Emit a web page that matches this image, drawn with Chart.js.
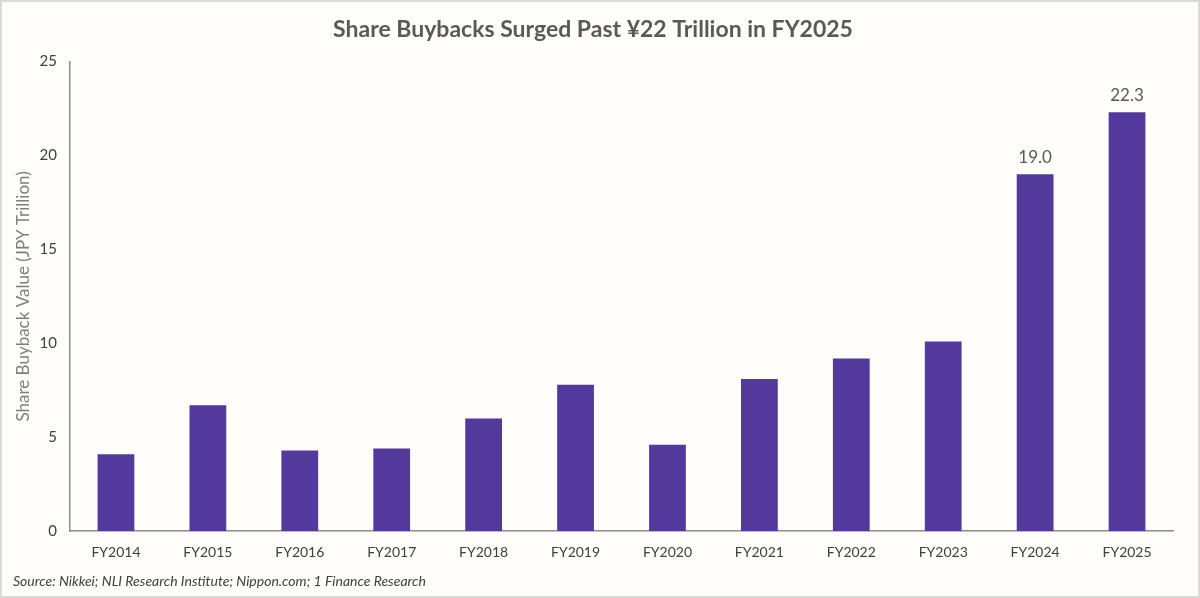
<!DOCTYPE html>
<html>
<head>
<meta charset="utf-8">
<script src="https://cdn.jsdelivr.net/npm/chart.js@4/dist/chart.umd.min.js"></script>
<style>
    html, body { margin: 0; padding: 0; background: #fffdf9; }
    #wrap { width: 1200px; height: 598px; position: relative; }
    canvas { display: block; }
</style>
</head>
<body>
<div id="wrap"><canvas id="buyback-chart" width="1200" height="598"></canvas></div>
<script>
const fiscalYears = ['FY2014', 'FY2015', 'FY2016', 'FY2017', 'FY2018', 'FY2019',
    'FY2020', 'FY2021', 'FY2022', 'FY2023', 'FY2024', 'FY2025'];
const buybackValues = [4.1, 6.7, 4.3, 4.4, 6.0, 7.8, 4.6, 8.1, 9.2, 10.1, 19.0, 22.3];
const labelledYears = ['FY2024', 'FY2025'];
const yTicks = [0, 5, 10, 15, 20, 25];

const colors = {
    bar: '#52399b',
    ink: '#404040',
    inkSoft: '#595959',
    axis: '#8c8c8c',
    frame: '#d9d9d9',
    surface: '#fffdf9',
};

const fontFamily = "Lato, 'Open Sans', sans-serif";

// background + outer frame
const framePlugin = {
    id: 'frame',
    beforeDraw(chart) {
        const { ctx, width, height } = chart;
        ctx.save();
        ctx.fillStyle = colors.surface;
        ctx.fillRect(0, 0, width, height);
        ctx.strokeStyle = colors.frame;
        ctx.lineWidth = 2;
        ctx.strokeRect(1, 1, width - 2, height - 2);
        ctx.restore();
    },
};

// value labels above the last two bars only
const valueLabelPlugin = {
    id: 'valueLabels',
    afterDatasetsDraw(chart) {
        const { ctx } = chart;
        const meta = chart.getDatasetMeta(0);
        ctx.save();
        ctx.font = `17px ${fontFamily}`;
        ctx.fillStyle = colors.inkSoft;
        ctx.textAlign = 'center';
        ctx.textBaseline = 'bottom';
        meta.data.forEach((bar, i) => {
            if (! labelledYears.includes(fiscalYears[i])) {
                return;
            }
            ctx.fillText(buybackValues[i].toFixed(1), bar.x, bar.y - 8);
        });
        ctx.restore();
    },
};

new Chart(document.getElementById('buyback-chart'), {
    type: 'bar',
    data: {
        labels: fiscalYears,
        datasets: [{
            label: 'Share Buyback Value',
            data: buybackValues,
            backgroundColor: colors.bar,
            borderWidth: 0,
            barPercentage: 0.4,
            categoryPercentage: 1,
        }],
    },
    options: {
        responsive: false,
        devicePixelRatio: 1,
        animation: false,
        layout: { padding: { left: 13, right: 27, top: 0, bottom: 0 } },
        plugins: {
            legend: { display: false },
            tooltip: { enabled: false },
            title: {
                display: true,
                text: 'Share Buybacks Surged Past ¥22 Trillion in FY2025',
                color: colors.inkSoft,
                font: { family: fontFamily, size: 23, weight: 'bold' },
                padding: { top: 16, bottom: 18 },
            },
            subtitle: {
                display: true,
                position: 'bottom',
                align: 'start',
                text: 'Source: Nikkei; NLI Research Institute; Nippon.com; 1 Finance Research',
                color: colors.ink,
                font: { family: fontFamily, size: 14, style: 'italic' },
                padding: { top: 12, bottom: 8 },
            },
        },
        scales: {
            x: {
                afterFit(scale) {
                    scale.height = 30;
                },
                grid: { display: false, drawTicks: false },
                border: { display: true, color: colors.axis, width: 1.5 },
                ticks: {
                    color: colors.ink,
                    font: { family: fontFamily, size: 14 },
                    padding: 13,
                    maxRotation: 0,
                },
            },
            y: {
                min: 0,
                max: 25,
                afterBuildTicks(scale) {
                    scale.ticks = yTicks.map((value) => ({ value }));
                },
                afterFit(scale) {
                    scale.width = 57;
                },
                grid: { display: false, drawTicks: false },
                border: { display: true, color: colors.axis, width: 1.5 },
                ticks: {
                    color: colors.ink,
                    font: { family: fontFamily, size: 15 },
                    padding: 13,
                },
                title: {
                    display: true,
                    text: 'Share Buyback Value (JPY Trillion)',
                    color: '#7f7f7f',
                    font: { family: fontFamily, size: 17 },
                    padding: { top: 0, bottom: 7 },
                },
            },
        },
    },
    plugins: [framePlugin, valueLabelPlugin],
});
</script>
</body>
</html>
